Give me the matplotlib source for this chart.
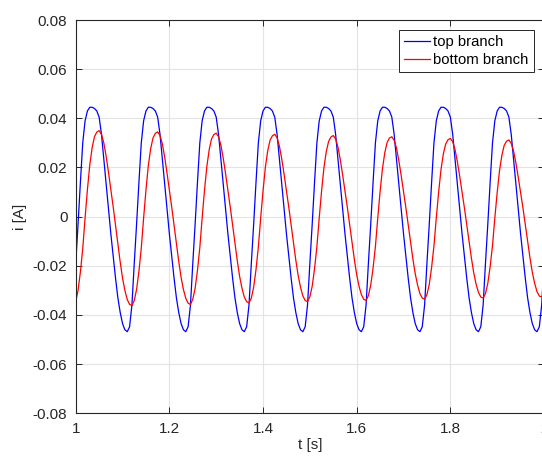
import numpy as np
import matplotlib
matplotlib.use("Agg")
import matplotlib.pyplot as plt

plt.rcParams['font.family'] = ['Liberation Sans', 'DejaVu Sans']

# time axis: 1.0 .. 2.0 s, samples read every 5 ms
t = np.linspace(1.0, 2.0, 201)

# top branch current [A], one row per period
top_branch = [
    -0.0190, -0.0030, 0.0140, 0.0300, 0.0390, 0.0430, 0.0445, 0.0445, 0.0440, 0.0430, 0.0405, 0.0335, 0.0234, 0.0130, 0.0030, -0.0070, -0.0160, -0.0250, -0.0330, -0.0390, -0.0435, -0.0460, -0.0468, -0.0448, -0.0360,
    -0.0190, -0.0030, 0.0140, 0.0300, 0.0390, 0.0430, 0.0445, 0.0445, 0.0440, 0.0430, 0.0405, 0.0335, 0.0234, 0.0130, 0.0030, -0.0070, -0.0160, -0.0250, -0.0330, -0.0390, -0.0435, -0.0460, -0.0468, -0.0448, -0.0360,
    -0.0190, -0.0030, 0.0140, 0.0300, 0.0390, 0.0430, 0.0445, 0.0445, 0.0440, 0.0430, 0.0405, 0.0335, 0.0234, 0.0130, 0.0030, -0.0070, -0.0160, -0.0250, -0.0330, -0.0390, -0.0435, -0.0460, -0.0468, -0.0448, -0.0360,
    -0.0190, -0.0030, 0.0140, 0.0300, 0.0390, 0.0430, 0.0445, 0.0445, 0.0440, 0.0430, 0.0405, 0.0335, 0.0234, 0.0130, 0.0030, -0.0070, -0.0160, -0.0250, -0.0330, -0.0390, -0.0435, -0.0460, -0.0468, -0.0448, -0.0360,
    -0.0190, -0.0030, 0.0140, 0.0300, 0.0390, 0.0430, 0.0445, 0.0445, 0.0440, 0.0430, 0.0405, 0.0335, 0.0234, 0.0130, 0.0030, -0.0070, -0.0160, -0.0250, -0.0330, -0.0390, -0.0435, -0.0460, -0.0468, -0.0448, -0.0360,
    -0.0190, -0.0030, 0.0140, 0.0300, 0.0390, 0.0430, 0.0445, 0.0445, 0.0440, 0.0430, 0.0405, 0.0335, 0.0234, 0.0130, 0.0030, -0.0070, -0.0160, -0.0250, -0.0330, -0.0390, -0.0435, -0.0460, -0.0468, -0.0448, -0.0360,
    -0.0190, -0.0030, 0.0140, 0.0300, 0.0390, 0.0430, 0.0445, 0.0445, 0.0440, 0.0430, 0.0405, 0.0335, 0.0234, 0.0130, 0.0030, -0.0070, -0.0160, -0.0250, -0.0330, -0.0390, -0.0435, -0.0460, -0.0468, -0.0448, -0.0360,
    -0.0190, -0.0030, 0.0140, 0.0300, 0.0390, 0.0430, 0.0445, 0.0445, 0.0440, 0.0430, 0.0405, 0.0335, 0.0234, 0.0130, 0.0030, -0.0070, -0.0160, -0.0250, -0.0330, -0.0390, -0.0435, -0.0460, -0.0468, -0.0448, -0.0360,
    -0.0190,
]

# bottom branch current [A], amplitude slowly shrinking
bottom_branch = [
    -0.0346, -0.0300, -0.0225, -0.0130, -0.0005, 0.0110, 0.0210, 0.0280, 0.0325, 0.0344, 0.0350, 0.0335, 0.0300, 0.0245, 0.0180, 0.0110, 0.0040, -0.0035, -0.0110, -0.0185, -0.0250, -0.0300, -0.0337, -0.0357, -0.0362,
    -0.0341, -0.0296, -0.0222, -0.0128, -0.0005, 0.0108, 0.0207, 0.0276, 0.0320, 0.0339, 0.0345, 0.0330, 0.0296, 0.0242, 0.0177, 0.0108, 0.0039, -0.0035, -0.0108, -0.0182, -0.0247, -0.0296, -0.0332, -0.0352, -0.0357,
    -0.0336, -0.0291, -0.0218, -0.0126, -0.0005, 0.0107, 0.0204, 0.0272, 0.0316, 0.0334, 0.0340, 0.0325, 0.0291, 0.0238, 0.0175, 0.0107, 0.0039, -0.0034, -0.0107, -0.0179, -0.0243, -0.0291, -0.0327, -0.0346, -0.0351,
    -0.0331, -0.0287, -0.0215, -0.0124, -0.0005, 0.0105, 0.0201, 0.0268, 0.0311, 0.0329, 0.0335, 0.0321, 0.0287, 0.0234, 0.0172, 0.0105, 0.0038, -0.0033, -0.0105, -0.0177, -0.0239, -0.0287, -0.0322, -0.0341, -0.0346,
    -0.0326, -0.0283, -0.0212, -0.0122, -0.0005, 0.0104, 0.0198, 0.0264, 0.0306, 0.0324, 0.0330, 0.0316, 0.0283, 0.0231, 0.0170, 0.0104, 0.0038, -0.0033, -0.0104, -0.0174, -0.0236, -0.0283, -0.0317, -0.0336, -0.0341,
    -0.0321, -0.0278, -0.0209, -0.0121, -0.0005, 0.0102, 0.0195, 0.0260, 0.0302, 0.0320, 0.0325, 0.0311, 0.0279, 0.0228, 0.0167, 0.0102, 0.0037, -0.0032, -0.0102, -0.0172, -0.0232, -0.0278, -0.0313, -0.0331, -0.0336,
    -0.0317, -0.0275, -0.0206, -0.0119, -0.0005, 0.0100, 0.0191, 0.0255, 0.0295, 0.0313, 0.0318, 0.0305, 0.0273, 0.0223, 0.0164, 0.0100, 0.0036, -0.0032, -0.0101, -0.0169, -0.0229, -0.0275, -0.0308, -0.0327, -0.0331,
    -0.0313, -0.0271, -0.0203, -0.0118, -0.0005, 0.0098, 0.0187, 0.0249, 0.0290, 0.0307, 0.0312, 0.0298, 0.0267, 0.0218, 0.0160, 0.0098, 0.0036, -0.0032, -0.0099, -0.0167, -0.0226, -0.0271, -0.0305, -0.0323, -0.0327,
    -0.0309,
]

xticks = [1.0, 1.2, 1.4, 1.6, 1.8, 2.0]
xtick_labels = ['1', '1.2', '1.4', '1.6', '1.8', '2']
yticks = [-0.08, -0.06, -0.04, -0.02, 0.0, 0.02, 0.04, 0.06, 0.08]
ytick_labels = ['-0.08', '-0.06', '-0.04', '-0.02', '0', '0.02', '0.04', '0.06', '0.08']

dark = '#262626'

fig = plt.figure(figsize=(5.42, 4.63), dpi=100)
# the original figure is cut off on the right, so the axes run past the edge
ax = fig.add_axes([0.1397, 0.1073, 0.8640, 0.8495])

ax.plot(t, top_branch, color='#0000ff', lw=0.9, label='top branch')
ax.plot(t, bottom_branch, color='#ff0000', lw=0.9, label='bottom branch')

ax.set_xlim(1.0, 2.0)
ax.set_ylim(-0.08, 0.08)
ax.set_xticks(xticks)
ax.set_xticklabels(xtick_labels)
ax.set_yticks(yticks)
ax.set_yticklabels(ytick_labels)

ax.grid(True, color='#e3e3e3', lw=0.8)
ax.set_axisbelow(True)
ax.tick_params(direction='in', length=4, width=0.7, colors=dark, labelsize=11,
               top=True, right=True, pad=6)
for s in ax.spines.values():
    s.set_color(dark)
    s.set_linewidth(0.8)

ax.set_xlabel('t [s]', fontsize=11, color=dark, labelpad=2)
ax.set_ylabel('i [A]', fontsize=11, color=dark, labelpad=4)

leg = ax.legend(loc='upper right', bbox_to_anchor=(534 / 542, 1 - 30 / 463),
                bbox_transform=fig.transFigure, fontsize=10.7,
                handlelength=1.8, handletextpad=0.2, borderpad=0.35,
                borderaxespad=0, labelspacing=0.25, fancybox=False, framealpha=1)
leg.get_frame().set_edgecolor(dark)
leg.get_frame().set_linewidth(0.7)

fig.savefig('out.png', dpi=100)
